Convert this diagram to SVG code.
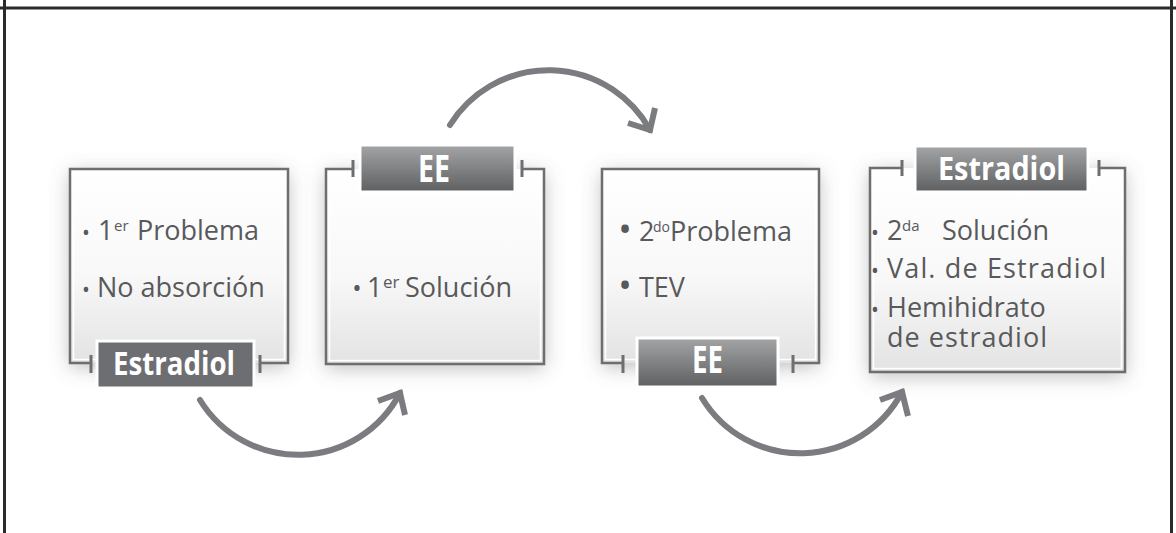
<svg xmlns="http://www.w3.org/2000/svg" width="1176" height="533" viewBox="0 0 1176 533">
<style>
.frame{fill:none;stroke:#6d6e71;stroke-width:2.5}
.tick{stroke:#6d6e71;stroke-width:3}
.inner{fill:none;stroke:#ffffff;stroke-width:1.5}
.bg{fill:url(#fillG);filter:url(#sh)}
.body{font-family:"Open Sans","Liberation Sans",sans-serif;font-size:27px;fill:#58595b}
.bul{font-family:"Open Sans","Liberation Sans",sans-serif;fill:#58595b;text-anchor:middle}
.lbl{font-family:"Open Sans","Liberation Sans",sans-serif;font-weight:700;fill:#ffffff}
.lblbox{stroke:#ffffff;stroke-width:3}
.arrow{fill:none;stroke:#7b7c7f;stroke-width:6;stroke-linecap:round}
.head{fill:none;stroke:#7b7c7f;stroke-width:6;stroke-linecap:butt;stroke-linejoin:miter}
.page{stroke:#2b2b2b;stroke-width:3}
</style>
<defs>
<linearGradient id="fillG" x1="0" y1="0" x2="0" y2="1">
<stop offset="0" stop-color="#ffffff"/>
<stop offset="0.55" stop-color="#f8f8f8"/>
<stop offset="1" stop-color="#e3e3e4"/>
</linearGradient>
<linearGradient id="lblG" x1="0" y1="0" x2="0" y2="1">
<stop offset="0" stop-color="#a4a5a7"/>
<stop offset="1" stop-color="#5e5f61"/>
</linearGradient>
<filter id="sh" x="-25%" y="-25%" width="150%" height="150%">
<feDropShadow dx="0" dy="4" stdDeviation="10" flood-color="#707070" flood-opacity="0.45"/>
</filter>
</defs>
<rect x="0" y="0" width="1176" height="533" fill="#ffffff"/>
<g id="page-frame">
<line class="page" x1="0" y1="8" x2="1176" y2="8"/>
<line class="page" x1="4.5" y1="0" x2="4.5" y2="533"/>
<line class="page" x1="1171.5" y1="0" x2="1171.5" y2="533"/>
</g>
<g id="connectors">
<path class="arrow" d="M200,400 A115,115 0 0,0 400,393"/>
<polyline class="head" points="378,401 400,393 405,415"/>
<path class="arrow" d="M450,125 A116,116 0 0,1 650,130"/>
<polyline class="head" points="628,123 650,130 655,108"/>
<path class="arrow" d="M702,398 A115,115 0 0,0 902,392"/>
<polyline class="head" points="880,400 902,392 908,416"/>
</g>
<g id="node-problema1">
<rect class="bg" x="70" y="169" width="218" height="194"/>
<rect class="inner" x="73.5" y="172.5" width="211" height="187"/>
<path class="frame" d="M91,363 H70 V169 H288 V363 H260"/>
<line class="tick" x1="91" y1="355" x2="91" y2="373"/>
<line class="tick" x1="260" y1="355" x2="260" y2="373"/>
<rect class="lblbox" x="97" y="341" width="157" height="47" fill="#6d6e71"/>
<text class="lbl" x="113" y="375" font-size="32" textLength="122" lengthAdjust="spacingAndGlyphs">Estradiol</text>
<text class="bul" x="86" y="240" font-size="21">•</text>
<text class="body" y="240"><tspan x="98">1</tspan><tspan x="114" font-size="15" dy="-9">er</tspan><tspan x="137" dy="9">Problema</tspan></text>
<text class="bul" x="86" y="297" font-size="21">•</text>
<text class="body" x="97" y="297">No absorción</text>
</g>
<g id="node-solucion1">
<rect class="bg" x="326" y="169" width="218" height="195"/>
<rect class="inner" x="329.5" y="172.5" width="211" height="188"/>
<path class="frame" d="M353,169 H326 V364 H544 V169 H522"/>
<line class="tick" x1="353" y1="160" x2="353" y2="177"/>
<line class="tick" x1="522" y1="160" x2="522" y2="177"/>
<rect class="lblbox" x="360" y="145" width="155" height="47" fill="url(#lblG)"/>
<text class="lbl" x="418" y="182" font-size="38" textLength="32" lengthAdjust="spacingAndGlyphs">EE</text>
<text class="bul" x="357" y="297" font-size="25">•</text>
<text class="body" y="297"><tspan x="367">1</tspan><tspan x="383" font-size="17" dy="-9">er</tspan><tspan x="405" dy="9">Solución</tspan></text>
</g>
<g id="node-problema2">
<rect class="bg" x="602" y="169" width="217" height="194"/>
<rect class="inner" x="605.5" y="172.5" width="210" height="187"/>
<path class="frame" d="M623,363 H602 V169 H819 V363 H793"/>
<line class="tick" x1="623" y1="355" x2="623" y2="373"/>
<line class="tick" x1="793" y1="355" x2="793" y2="373"/>
<rect class="lblbox" x="637" y="338" width="141" height="49" fill="url(#lblG)"/>
<text class="lbl" x="692" y="373" font-size="38" textLength="31" lengthAdjust="spacingAndGlyphs">EE</text>
<text class="bul" x="625" y="242" font-size="36">•</text>
<text class="body" y="241"><tspan x="639">2</tspan><tspan x="653" font-size="14" dy="-9">do</tspan><tspan x="670" dy="9">Problema</tspan></text>
<text class="bul" x="625" y="298" font-size="36">•</text>
<text class="body" x="639" y="297">TEV</text>
</g>
<g id="node-solucion2">
<rect class="bg" x="870" y="168" width="255" height="204"/>
<rect class="inner" x="873.5" y="171.5" width="248" height="197"/>
<path class="frame" d="M902,168 H870 V372 H1125 V168 H1099"/>
<line class="tick" x1="902" y1="160" x2="902" y2="176"/>
<line class="tick" x1="1099" y1="160" x2="1099" y2="176"/>
<rect class="lblbox" x="915" y="146" width="173" height="46" fill="url(#lblG)"/>
<text class="lbl" x="938" y="180" font-size="32" textLength="127" lengthAdjust="spacingAndGlyphs">Estradiol</text>
<text class="bul" x="875" y="240" font-size="21">•</text>
<text class="body" y="240"><tspan x="887">2</tspan><tspan x="902" font-size="15" dy="-9">da</tspan><tspan x="942" dy="9">Solución</tspan></text>
<text class="bul" x="875" y="278" font-size="21">•</text>
<text class="body" x="887" y="278" textLength="219" lengthAdjust="spacing">Val. de Estradiol</text>
<text class="bul" x="875" y="317" font-size="21">•</text>
<text class="body"><tspan x="887" y="317">Hemihidrato</tspan><tspan x="887" y="347" textLength="160" lengthAdjust="spacing">de estradiol</tspan></text>
</g>
</svg>
